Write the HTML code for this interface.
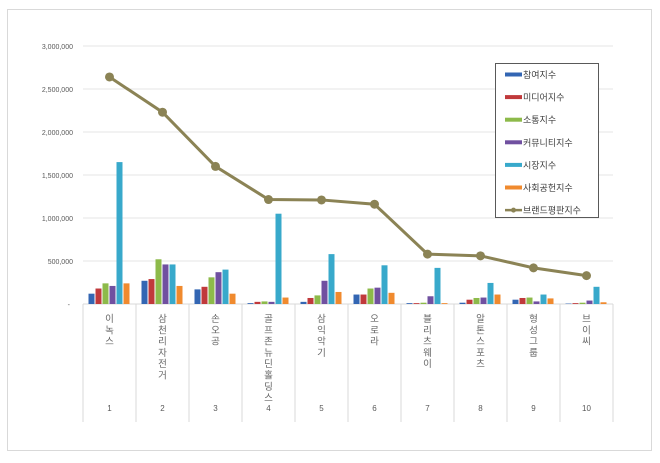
<!DOCTYPE html>
<html><head><meta charset="utf-8"><style>
body{margin:0;background:#fff;}
svg text{font-family:"Liberation Sans","Noto Sans CJK KR",sans-serif;}
</style></head><body>
<svg width="660" height="458" xmlns="http://www.w3.org/2000/svg">
<rect x="7.5" y="9.5" width="644" height="441" fill="#fff" stroke="#d9d9d9"/>
</svg>
<script>
const s=document.querySelector('svg');
function el(t,a,txt){const e=document.createElementNS('http://www.w3.org/2000/svg',t);for(const k in a)e.setAttribute(k,a[k]);if(txt!==undefined)e.textContent=txt;s.appendChild(e);return e;}
const x0=83,x1=613,yb=304,yt=46,cw=(x1-x0)/10;
const Y=v=>yb-(v/3000000)*(yb-yt);
const labs=["3,000,000","2,500,000","2,000,000","1,500,000","1,000,000","500,000","-"];
for(let i=0;i<=6;i++){const v=3000000-i*500000,y=Y(v);
 if(v>0)el('line',{x1:x0,x2:x1,y1:y,y2:y,stroke:'#e6e6e6'});
 el('text',{x:v>0?73:70,y:y+3,'font-size':7,fill:'#595959','text-anchor':'end'},labs[i]);}
el('line',{x1:x0,x2:x1,y1:yb,y2:yb,stroke:'#d9d9d9'});
for(let i=0;i<=10;i++){const x=x0+i*cw;el('line',{x1:x,x2:x,y1:yb,y2:422,stroke:'#d9d9d9'});}
const cols=['#3366b3','#c0393b','#8dba4a','#7050a0','#38a9cb','#f08a2e'];
const d=[[120e3,180e3,240e3,210e3,1650e3,240e3],[270e3,290e3,520e3,460e3,460e3,210e3],[170e3,200e3,310e3,370e3,400e3,120e3],[10e3,25e3,30e3,25e3,1050e3,75e3],[25e3,70e3,100e3,270e3,580e3,140e3],[110e3,110e3,180e3,190e3,450e3,130e3],[10e3,10e3,15e3,90e3,420e3,10e3],[15e3,50e3,70e3,75e3,245e3,110e3],[50e3,70e3,75e3,30e3,110e3,65e3],[5e3,10e3,15e3,40e3,200e3,20e3]];
const L=[2640e3,2230e3,1600e3,1215e3,1210e3,1160e3,580e3,560e3,420e3,330e3];
const names=["이녹스","삼천리자전거","손오공","골프존뉴딘홀딩스","삼익악기","오로라","블리츠웨이","알톤스포츠","형성그룹","브이씨"];
for(let i=0;i<10;i++){const cx=x0+i*cw+cw/2;
 d[i].forEach((v,j)=>{const x=cx-21+j*7;el('rect',{x:x,y:Y(v),width:6,height:yb-Y(v),fill:cols[j]});});
 [...names[i]].forEach((c,k)=>el('text',{x:cx,y:322+k*11.3,'font-size':9.5,fill:'#666','text-anchor':'middle'},c));
 el('text',{x:cx,y:411,'font-size':8,fill:'#595959','text-anchor':'middle'},String(i+1));}
el('polyline',{points:L.map((v,i)=>(x0+i*cw+cw/2)+','+Y(v)).join(' '),fill:'none',stroke:'#8b8355','stroke-width':3});
L.forEach((v,i)=>el('circle',{cx:x0+i*cw+cw/2,cy:Y(v),r:4.5,fill:'#8b8355'}));
el('rect',{x:495.5,y:63.5,width:103,height:154,fill:'#fff',stroke:'#595959'});
const ln=["참여지수","미디어지수","소통지수","커뮤니티지수","시장지수","사회공헌지수","브랜드평판지수"];
ln.forEach((t,i)=>{const y=74.5+i*22.6;
 if(i<6)el('rect',{x:505,y:y-2,width:17,height:4,fill:cols[i]});
 else{el('line',{x1:505,x2:522,y1:y,y2:y,stroke:'#8b8355','stroke-width':2.5});el('circle',{cx:513.5,cy:y,r:2.5,fill:'#8b8355'});}
 el('text',{x:523,y:y+3.5,'font-size':9,fill:'#404040'},t);});
</script>
</body></html>
